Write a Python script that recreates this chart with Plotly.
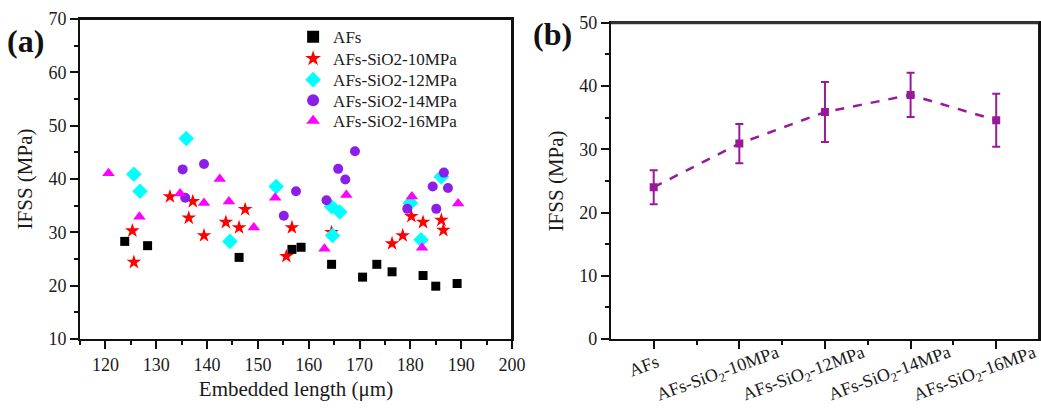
import plotly.graph_objects as go
from plotly.subplots import make_subplots

# ---------------- Panel (a) data: embedded length (um) vs IFSS (MPa)
afs_x = [123.8, 128.3, 146.3, 156.7, 158.5, 164.5, 170.6, 173.4, 176.4, 182.5, 185.0, 189.2]
afs_y = [28.3, 27.5, 25.3, 26.8, 27.2, 24.0, 21.6, 24.0, 22.6, 21.9, 19.9, 20.4]

s10_x = [125.3, 125.6, 132.7, 137.2, 147.5, 136.4, 143.7, 146.3, 139.4, 156.7, 164.5, 155.6,
         180.2, 182.5, 186.1, 186.5, 178.5, 176.4]
s10_y = [30.3, 24.4, 36.7, 35.8, 34.3, 32.7, 31.9, 30.9, 29.4, 30.9, 30.0, 25.5,
         33.0, 31.9, 32.3, 30.4, 29.4, 27.9]

s12_x = [125.6, 126.8, 135.9, 144.5, 153.6, 164.5, 166.1, 164.7, 186.1, 180.0, 182.1]
s12_y = [40.9, 37.7, 47.6, 28.3, 38.6, 34.8, 33.8, 29.4, 40.4, 35.5, 28.6]

s14_x = [135.2, 139.4, 135.7, 169.1, 165.8, 167.2, 157.5, 163.5, 155.1, 186.6, 184.4, 187.4, 179.4, 185.1]
s14_y = [41.8, 42.8, 36.5, 45.2, 41.9, 39.9, 37.7, 36.0, 33.1, 41.2, 38.6, 38.3, 34.4, 34.4]

s16_x = [120.6, 126.7, 142.5, 134.7, 139.4, 144.3, 149.2, 167.4, 153.4, 163.1, 180.3, 189.4, 182.3]
s16_y = [41.1, 32.9, 40.0, 37.3, 35.5, 35.8, 30.9, 37.0, 36.5, 26.9, 36.7, 35.4, 27.1]

# ---------------- Panel (b) data: mean IFSS with error
cats = ["AFs", "AFs-SiO<sub>2</sub>-10MPa", "AFs-SiO<sub>2</sub>-12MPa",
        "AFs-SiO<sub>2</sub>-14MPa", "AFs-SiO<sub>2</sub>-16MPa"]
mean_ifss = [24.0, 30.9, 35.9, 38.6, 34.6]
err_ifss = [2.7, 3.1, 4.75, 3.5, 4.2]

FONT = "Liberation Serif"
TXT = "#1a1a1a"
AX = "#111111"

fig = make_subplots(rows=1, cols=2)

series = [
    ("AFs", afs_x, afs_y, "square", "#000000", 9),
    ("AFs-SiO2-10MPa", s10_x, s10_y, "star", "#FF0000", 11),
    ("AFs-SiO2-12MPa", s12_x, s12_y, "diamond", "#00FFFF", 12),
    ("AFs-SiO2-14MPa", s14_x, s14_y, "circle", "#8B1FE8", 10),
    ("AFs-SiO2-16MPa", s16_x, s16_y, "triangle-up", "#FF00FF", 11),
]
legend_names = ["legend", "legend2", "legend3", "legend4", "legend5"]
for (name, xs, ys, sym, col, sz), lg in zip(series, legend_names):
    fig.add_trace(go.Scatter(x=xs, y=ys, mode="markers", name=name, legend=lg,
                             marker=dict(symbol=sym, color=col, size=sz, line=dict(width=0))),
                  row=1, col=1)

idx = list(range(len(cats)))
fig.add_trace(go.Scatter(x=idx, y=mean_ifss, mode="lines+markers", showlegend=False,
                         line=dict(color="#99199A", width=2.5, dash="dash"),
                         marker=dict(symbol="square", color="#99199A", size=8),
                         error_y=dict(type="data", array=err_ifss, visible=True,
                                      color="#99199A", thickness=2, width=4)),
              row=1, col=2)

def ax(**kw):
    d = dict(showline=True, linecolor=AX, linewidth=2, mirror=True,
             ticks="outside", ticklen=8, tickwidth=2, tickcolor=AX,
             showgrid=False, zeroline=False, automargin=False,
             tickfont=dict(family=FONT, size=18, color=TXT))
    d.update(kw)
    return d

minor5 = lambda t0: dict(ticks="outside", ticklen=4, tickwidth=2, dtick=5, tick0=t0, tickcolor=AX)
title_font = dict(family=FONT, size=21, color=TXT)

# legend rows (paper y) for the five entries
leg_y = [0.943, 0.875, 0.809, 0.745, 0.681]
legends = {}
for lg, yy in zip(legend_names, leg_y):
    legends[lg] = dict(x=0.222, y=yy, xanchor="left", yanchor="middle",
                       font=dict(family=FONT, size=17, color=TXT),
                       bgcolor="rgba(0,0,0,0)", itemsizing="constant")

# rotated category labels for panel (b), placed on the x2 scale
cat_annots = []
for i, c in enumerate(cats):
    short = (i == 0)
    cat_annots.append(dict(text=c, x=idx[i], xref="x2", y=(-0.085 if short else -0.112), yref="paper",
                           xshift=(-10 if short else -21), textangle=-20,
                           xanchor="center", yanchor="middle", showarrow=False,
                           font=dict(family=FONT, size=18, color=TXT)))

DOM_A = [0, 0.45]
DOM_B = [0.553, 0.999]
DOM_BY = [0, 0.988]

# panel frames (top and right edges), drawn in paper coordinates
frames = [
    dict(type="line", xref="paper", yref="paper", x0=DOM_A[0], x1=DOM_A[1], y0=1, y1=1,
         line=dict(color=AX, width=2), layer="above"),
    dict(type="line", xref="paper", yref="paper", x0=DOM_A[1], x1=DOM_A[1], y0=0, y1=1,
         line=dict(color=AX, width=2), layer="above"),
    dict(type="line", xref="paper", yref="paper", x0=DOM_B[0], x1=DOM_B[1], y0=DOM_BY[1], y1=DOM_BY[1],
         line=dict(color="#333333", width=3), layer="above"),
    dict(type="line", xref="paper", yref="paper", x0=DOM_B[1], x1=DOM_B[1], y0=0, y1=DOM_BY[1],
         line=dict(color=AX, width=2), layer="above"),
]

fig.update_layout(
    xaxis=ax(domain=DOM_A, range=[115, 200], tickmode="linear", tick0=120, dtick=10,
             minor=minor5(120),
             title=dict(text="Embedded length (μm)", font=title_font, standoff=8)),
    yaxis=ax(domain=[0, 1], range=[10, 70], tickmode="linear", tick0=10, dtick=10,
             minor=minor5(10),
             title=dict(text="IFSS (MPa)", font=title_font, standoff=10)),
    xaxis2=ax(domain=DOM_B, range=[-0.5, 4.5], tickmode="array", tickvals=idx,
              showticklabels=False,
              minor=dict(ticks="outside", ticklen=4, tickwidth=2, tickmode="array",
                         tickvals=[0.5, 1.5, 2.5, 3.5], tickcolor=AX)),
    yaxis2=ax(domain=DOM_BY, range=[0, 50], tickmode="linear", tick0=0, dtick=10,
              minor=minor5(0),
              title=dict(text="IFSS (MPa)", font=title_font, standoff=10)),
    width=1041, height=409,
    margin=dict(l=80, r=1, t=19, b=70, autoexpand=False),
    paper_bgcolor="white", plot_bgcolor="white",
    font=dict(family=FONT, color=TXT),
    shapes=frames,
    annotations=[
        dict(text="<b>(a)</b>", x=-0.0563, y=0.932, xref="paper", yref="paper",
             xanchor="center", yanchor="middle",
             showarrow=False, font=dict(family=FONT, size=32, color="#111111")),
        dict(text="<b>(b)</b>", x=0.4927, y=0.953, xref="paper", yref="paper",
             xanchor="center", yanchor="middle",
             showarrow=False, font=dict(family=FONT, size=32, color="#111111")),
    ] + cat_annots,
    **legends,
)

fig.write_html("out.html", config={"displayModeBar": False},
               post_script="document.body.style.margin='0';")
